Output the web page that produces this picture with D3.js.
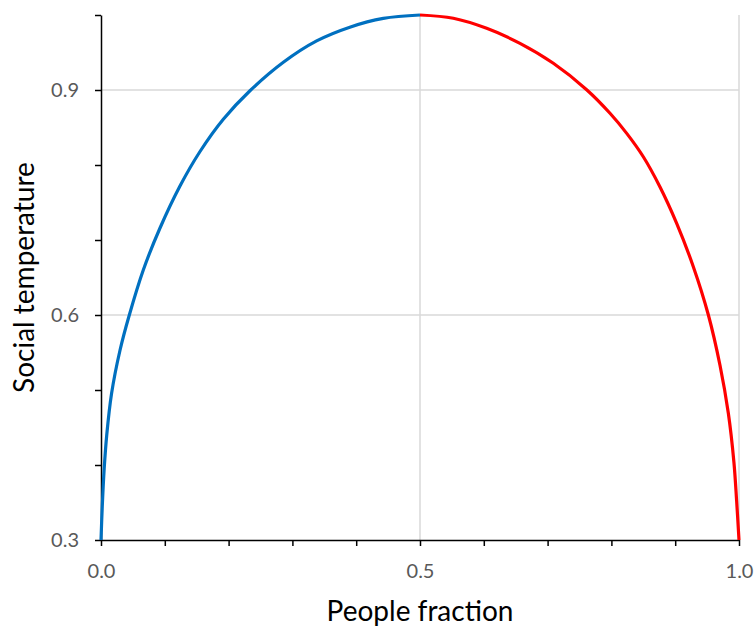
<!DOCTYPE html>
<html>
<head>
<meta charset="utf-8">
<script src="https://cdn.jsdelivr.net/npm/d3@7"></script>
<style>
  body { margin: 0; background: #fff; }
  svg { display: block; }
</style>
</head>
<body>
<svg></svg>
<script>
// values
var blueX = [0, 0.002, 0.005, 0.009, 0.0165, 0.0298, 0.0444, 0.0663, 0.0925, 0.1238, 0.1552, 0.1917, 0.2335, 0.2858, 0.338, 0.390, 0.4425, 0.5];
var blueY = [0.3, 0.345, 0.395, 0.44, 0.495, 0.553, 0.6, 0.66, 0.716, 0.772, 0.818, 0.861, 0.899, 0.937, 0.9655, 0.9838, 0.9955, 1.0];
var redX = [0.5, 0.5522, 0.6045, 0.6567, 0.709, 0.7612, 0.7978, 0.824, 0.85, 0.876, 0.9023, 0.9284, 0.952, 0.9702, 0.9833, 0.992, 0.9963, 1.0];
var redY = [1.0, 0.9956, 0.9822, 0.9622, 0.9356, 0.9004, 0.869, 0.8422, 0.811, 0.771, 0.7222, 0.6644, 0.6, 0.533, 0.469, 0.404, 0.352, 0.3];

var xTicks = [0, 0.1, 0.2, 0.3, 0.4, 0.5, 0.6, 0.7, 0.8, 0.9, 1.0];
var xLabels = [0, 0.5, 1.0];
var yTicks = [0.3, 0.4, 0.5, 0.6, 0.7, 0.8, 0.9, 1.0];
var yLabels = [0.3, 0.6, 0.9];
var xGrid = [0.5, 1.0];
var yGrid = [0.6, 0.9];

var svgWidth = 756;
var svgHeight = 627;
var mLeft = 101, mRight = 739, mTop = 15, mBottom = 540;
var font = "Lato, 'Open Sans', sans-serif";

var svg = d3.select("svg")
    .attr("width", svgWidth)
    .attr("height", svgHeight);

var x = d3.scaleLinear().domain([0, 1]).range([mLeft, mRight]);
var y = d3.scaleLinear().domain([0.3, 1.0]).range([mBottom, mTop]);

// gridlines
svg.selectAll(".hgrid")
    .data(yGrid)
    .enter()
    .append("line")
    .attr("x1", mLeft).attr("x2", mRight)
    .attr("y1", function(d) { return y(d); })
    .attr("y2", function(d) { return y(d); })
    .attr("stroke", "#d9d9d9")
    .attr("stroke-width", 1.5);

svg.selectAll(".vgrid")
    .data(xGrid)
    .enter()
    .append("line")
    .attr("y1", mTop).attr("y2", mBottom)
    .attr("x1", function(d) { return x(d); })
    .attr("x2", function(d) { return x(d); })
    .attr("stroke", "#d9d9d9")
    .attr("stroke-width", 1.5);

// axes
var xAxis = d3.axisBottom(x)
    .tickValues(xTicks)
    .tickSize(6)
    .tickSizeOuter(0)
    .tickFormat(function(d) { return xLabels.indexOf(d) >= 0 ? d3.format(".1f")(d) : ""; });

var yAxis = d3.axisLeft(y)
    .tickValues(yTicks)
    .tickSize(6)
    .tickSizeOuter(0)
    .tickFormat(function(d) { return yLabels.indexOf(d) >= 0 ? d3.format(".1f")(d) : ""; });

var gx = svg.append("g")
    .attr("transform", "translate(0," + mBottom + ")")
    .call(xAxis);
gx.selectAll("text")
    .attr("y", 24)
    .attr("dy", "0.71em");

var gy = svg.append("g")
    .attr("transform", "translate(" + mLeft + ",0)")
    .call(yAxis);
gy.selectAll("text")
    .attr("x", -22);

svg.selectAll(".domain, .tick line")
    .attr("stroke", "#000")
    .attr("stroke-width", 1.5);
svg.selectAll(".tick text")
    .attr("fill", "#595959")
    .style("font-family", font)
    .style("font-size", "20px");

// curves
var line = d3.line()
    .x(function(d) { return x(d[0]); })
    .y(function(d) { return y(d[1]); })
    .curve(d3.curveCatmullRom.alpha(0.5));

svg.append("path")
    .datum(d3.zip(blueX, blueY))
    .attr("d", line)
    .attr("fill", "none")
    .attr("stroke", "#0070c0")
    .attr("stroke-width", 3.2);

svg.append("path")
    .datum(d3.zip(redX, redY))
    .attr("d", line)
    .attr("fill", "none")
    .attr("stroke", "#ff0000")
    .attr("stroke-width", 3.2);

// axis titles
svg.append("text")
    .attr("x", (mLeft + mRight) / 2)
    .attr("y", 621)
    .attr("text-anchor", "middle")
    .style("font-family", font)
    .style("font-size", "28px")
    .attr("fill", "#000")
    .text("People fraction");

svg.append("text")
    .attr("transform", "translate(34," + ((mTop + mBottom) / 2) + ") rotate(-90)")
    .attr("text-anchor", "middle")
    .style("font-family", font)
    .style("font-size", "28px")
    .attr("fill", "#000")
    .text("Social temperature");
</script>
</body>
</html>
